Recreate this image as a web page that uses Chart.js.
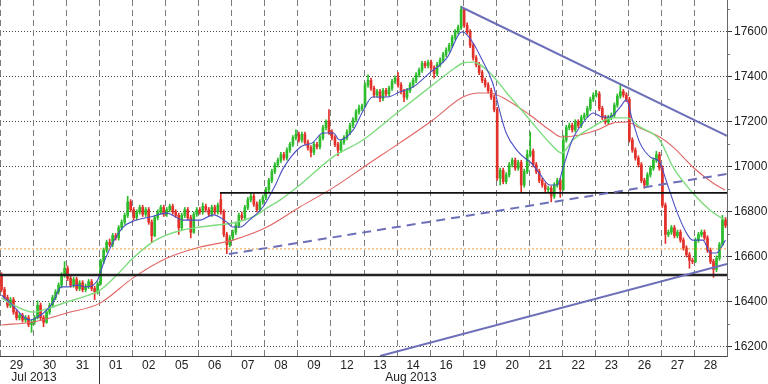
<!DOCTYPE html>
<html><head><meta charset="utf-8">
<script src="https://cdn.jsdelivr.net/npm/chart.js@4/dist/chart.umd.min.js"></script>
<style>html,body{margin:0;padding:0;background:#fff;}canvas{display:block;}</style>
</head><body>
<canvas id="c" width="768" height="384"></canvas>
<script>
// ---- data ----
const dayLabels = ['29','30','31','01','02','05','06','07','08','09','12','13','14','16','19','20','21','22','23','26','27','28'];
const monthLabels = ['Jul 2013','Aug 2013'];
const monthLabelPos = [10.8, 136.3];   // bar-index where month label sits
const monthSeparator = 32.5;           // between 31 Jul and 01 Aug
const barsPerDay = 11;
const yTicks = [16200,16400,16600,16800,17000,17200,17400,17600];
const yMinorTicks = [16300,16500,16700,16900,17100,17300,17500,17700];

const opens = [
16520,16455,16420,16385,16410,16355,16330,16340,16320,16330,16300,
16310,16330,16385,16330,16310,16355,16385,16420,16445,16475,16520,
16550,16505,16475,16500,16460,16485,16455,16470,16490,16460,16445,
16480,16580,16630,16665,16655,16695,16685,16730,16755,16785,16845,
16810,16775,16800,16820,16790,16810,16755,16695,16775,16800,16820,
16790,16810,16825,16800,16785,16730,16785,16810,16775,16710,16790,
16810,16800,16825,16810,16790,16820,16800,16855,16800,16700,16655,
16685,16710,16740,16785,16775,16820,16855,16870,16835,16810,16845,
16865,16900,16940,16980,17010,17030,17055,17040,17075,17100,17130,
17145,17120,17145,17110,17085,17065,17100,17090,17130,17175,17205,
17155,17130,17100,17075,17110,17130,17155,17185,17210,17245,17260,
17270,17365,17385,17350,17320,17335,17305,17340,17325,17350,17380,
17395,17365,17335,17310,17340,17365,17385,17410,17430,17460,17450,
17465,17440,17415,17455,17475,17500,17520,17540,17575,17600,17620,
17700,17630,17600,17540,17485,17455,17420,17385,17365,17340,17310,
17255,16950,16985,16935,16965,17010,17030,16995,17020,16920,16980,
17055,17070,17010,16980,16940,16920,16900,16905,16870,16920,16940,
16900,17120,17175,17185,17165,17200,17185,17220,17230,17260,17300,
17320,17325,17260,17220,17200,17220,17230,17275,17315,17335,17320,
17300,17120,17075,17040,17010,16940,16920,16965,16995,17030,17055,
16995,16830,16700,16710,16730,16695,16710,16675,16640,16610,16585,
16580,16675,16700,16710,16685,16630,16580,16545,16595,16655,16765];
const closes = [
16455,16420,16385,16410,16355,16330,16340,16320,16330,16300,16310,
16330,16385,16330,16310,16355,16385,16420,16445,16475,16520,16550,
16505,16475,16500,16460,16485,16455,16470,16490,16460,16445,16480,
16580,16630,16665,16655,16695,16685,16730,16755,16785,16845,16810,
16775,16800,16820,16790,16810,16755,16695,16775,16800,16820,16790,
16810,16825,16800,16785,16730,16785,16810,16775,16710,16790,16810,
16800,16825,16810,16790,16820,16800,16830,16800,16700,16655,16685,
16710,16740,16785,16775,16820,16855,16870,16835,16810,16845,16865,
16900,16940,16980,17010,17030,17055,17040,17075,17100,17130,17145,
17120,17145,17110,17085,17065,17100,17090,17130,17175,17200,17155,
17130,17100,17075,17110,17130,17155,17185,17210,17245,17260,17270,
17365,17385,17350,17320,17335,17305,17340,17325,17350,17380,17395,
17365,17335,17310,17340,17365,17385,17410,17430,17460,17450,17465,
17440,17415,17455,17475,17500,17520,17540,17575,17600,17620,17700,
17630,17600,17540,17485,17455,17420,17385,17365,17340,17310,17255,
16950,16985,16935,16965,17010,17030,16995,17020,16920,16980,17055,
17070,17010,16980,16940,16920,16900,16905,16870,16920,16940,16900,
17120,17175,17185,17165,17200,17185,17220,17230,17260,17300,17320,
17325,17260,17220,17200,17220,17230,17275,17315,17335,17320,17300,
17120,17075,17040,17010,16940,16920,16965,16995,17030,17055,16995,
16830,16700,16710,16730,16695,16710,16675,16640,16610,16585,16580,
16675,16700,16710,16685,16630,16580,16545,16595,16655,16765,16740];
const highs = [
16530,16465,16430,16420,16420,16365,16350,16350,16340,16340,16320,
16340,16405,16395,16340,16365,16395,16430,16455,16485,16530,16580,
16560,16515,16510,16510,16495,16495,16480,16500,16500,16470,16490,
16590,16640,16675,16680,16705,16705,16740,16765,16795,16870,16855,
16820,16810,16830,16830,16820,16820,16765,16785,16810,16830,16830,
16820,16835,16835,16810,16795,16795,16820,16820,16785,16800,16820,
16820,16840,16835,16820,16830,16830,16840,16885,16810,16710,16695,
16720,16750,16795,16800,16830,16865,16885,16880,16845,16855,16875,
16910,16950,16990,17020,17040,17065,17065,17085,17110,17140,17165,
17155,17155,17155,17120,17095,17110,17110,17140,17185,17210,17255,
17165,17140,17110,17120,17140,17165,17195,17220,17255,17275,17280,
17375,17410,17395,17360,17345,17345,17350,17350,17360,17390,17405,
17420,17375,17345,17350,17375,17395,17420,17440,17470,17470,17475,
17475,17450,17465,17485,17510,17530,17550,17585,17610,17630,17715,
17705,17640,17610,17550,17495,17465,17430,17395,17375,17350,17320,
17265,16995,16995,16975,17020,17040,17040,17030,17030,16990,17075,
17155,17080,17020,16990,16950,16930,16915,16915,16930,16950,16950,
17140,17185,17195,17195,17210,17210,17230,17240,17270,17310,17330,
17340,17335,17270,17230,17230,17240,17285,17325,17365,17345,17330,
17310,17130,17085,17050,17020,16950,16975,17005,17040,17070,17065,
17005,16840,16720,16740,16740,16720,16720,16685,16650,16620,16595,
16685,16710,16720,16720,16695,16640,16590,16605,16665,16785,16775];
const lows = [
16445,16410,16375,16375,16345,16320,16320,16310,16310,16290,16265,
16300,16325,16320,16290,16305,16345,16375,16410,16435,16465,16510,
16495,16465,16465,16450,16450,16445,16445,16460,16450,16410,16435,
16475,16570,16620,16645,16645,16675,16675,16720,16745,16775,16800,
16765,16765,16790,16780,16780,16745,16665,16690,16765,16790,16780,
16780,16800,16790,16775,16700,16720,16775,16765,16685,16705,16780,
16790,16790,16800,16780,16780,16790,16790,16790,16690,16615,16645,
16675,16700,16730,16765,16765,16810,16845,16825,16800,16800,16835,
16855,16890,16930,16970,17000,17020,17030,17030,17065,17090,17120,
17110,17110,17100,17075,17045,17055,17080,17080,17120,17165,17145,
17120,17090,17050,17065,17100,17120,17145,17175,17200,17235,17250,
17265,17355,17340,17310,17310,17290,17295,17315,17315,17340,17370,
17355,17325,17290,17300,17330,17355,17375,17400,17420,17440,17440,
17430,17395,17405,17445,17465,17490,17510,17530,17565,17590,17610,
17620,17590,17530,17475,17445,17410,17375,17355,17330,17300,17245,
16940,16920,16925,16925,16955,17000,16985,16985,16885,16910,16970,
17045,17000,16970,16930,16910,16890,16890,16845,16860,16910,16865,
16895,17110,17165,17155,17155,17175,17175,17210,17220,17250,17290,
17310,17250,17210,17190,17190,17210,17220,17265,17305,17310,17290,
17110,17065,17030,17000,16930,16905,16910,16955,16985,17020,16985,
16820,16660,16690,16700,16685,16685,16665,16630,16600,16550,16570,
16575,16665,16690,16675,16620,16570,16510,16535,16585,16650,16730];

// moving averages: [bar index, price]
const maFast = [[0,16431],[3,16395],[9.5,16320],[12,16333],[14,16351],[17,16395],[20,16467],[22,16467],[25,16475],[28.5,16467],[32,16498],[34,16573],[37,16662],[40.5,16733],[44,16760],[49.5,16778],[55,16795],[60.5,16764],[66,16764],[70.5,16787],[75,16755],[77,16733],[79.5,16733],[82.5,16764],[87,16822],[91.5,16929],[93.5,16987],[99.5,17089],[103.5,17107],[107,17151],[110.5,17151],[112.5,17120],[117,17164],[120.5,17253],[123.5,17311],[128.5,17311],[132.5,17333],[137,17355],[142.5,17418],[148.5,17489],[152.5,17595],[153.5,17600],[157,17551],[160,17475],[163.5,17373],[166,17240],[168,17151],[171.5,17075],[175,17031],[176,17022],[179,16973],[182.5,16920],[185,16920],[187,17000],[190,17120],[193.5,17195],[197,17240],[200,17222],[202.5,17222],[206,17267],[208,17298],[210,17209],[212.5,17107],[216,17044],[219,17022],[221.5,16929],[225,16795],[228,16707],[230,16675],[233.5,16675],[236,16618],[238,16618],[241,16675]];
const maMid = [[0,16418],[3.8,16387],[10.5,16355],[13.8,16364],[21.8,16400],[27.1,16422],[32.8,16453],[38.4,16520],[43.8,16595],[50.4,16667],[55.1,16698],[60.4,16720],[66.1,16733],[71.7,16742],[77,16751],[83.7,16778],[88.4,16818],[92.7,16853],[99.3,16920],[110.3,17044],[120.3,17120],[131.6,17240],[142.6,17355],[150.9,17440],[153.6,17462],[156.9,17466],[162.6,17418],[168.2,17329],[175.9,17209],[182.5,17107],[186.5,17062],[190.2,17120],[196.8,17178],[203.5,17218],[208.2,17218],[212.5,17178],[219.1,17120],[223.5,17000],[230.1,16884],[235.8,16809],[240.8,16764]];
const maSlow = [[0,16298],[10.5,16311],[21.8,16351],[32.8,16395],[43.8,16507],[55.1,16595],[66.1,16644],[77,16675],[88.4,16733],[99.3,16822],[110.3,16907],[121.6,17009],[132.6,17107],[143.6,17209],[153.6,17311],[159.2,17329],[162.6,17329],[168.2,17298],[175.9,17231],[182.5,17164],[186.5,17133],[192.5,17142],[198.2,17164],[203.5,17195],[208.2,17200],[212.5,17173],[219.1,17133],[223.5,17089],[230.1,17000],[236.8,16929],[240.8,16898]];

// drawn lines: [bar index, price]
const resistanceLine = [[153,17711],[241.5,17138]];
const supportLine = [[126,16160],[241.5,16569]];
const risingDashed = [[75.7,16613],[241.5,16969]];
const levelLow = [[-0.5,16520],[241.5,16520]];
const levelHigh = [[72.7,16885],[241.5,16885]];
const levelOrange = [[-0.5,16636],[241.5,16636]];

// ---- build ----
const nBars = closes.length;
const xMin = -0.5, xMax = nBars - 0.5;
const upC = '#2cbc2c', dnC = '#e2302a';
const candleColors = closes.map((c,i) => c >= opens[i] ? upC : dnC);
const bodies = closes.map((c,i) => ({x:i, y:[opens[i], c]}));
const wicks = closes.map((c,i) => ({x:i, y:[lows[i], highs[i]]}));
const pts = a => a.map(p => ({x:p[0], y:p[1]}));
const dayCenters = dayLabels.map((_,d) => d*barsPerDay + (barsPerDay-1)/2);
const dayBounds = [];
for (let d = 0; d <= dayLabels.length; d++) dayBounds.push(d*barsPerDay - 0.5);
const font = {family:'Liberation Sans, Arial, sans-serif', size:12};
const lineDs = (data, color, width, order, extra) => Object.assign({
  type:'line', data:pts(data), borderColor:color, borderWidth:width, pointRadius:0,
  fill:false, order:order, tension:0
}, extra||{});

// day separators, x-axis line, month separator and minor y ticks, placed with the chart's scales
const framePlugin = {
  id:'frame',
  beforeDatasetsDraw(chart){
    const s = chart.scales.x, ca = chart.chartArea, ctx = chart.ctx;
    ctx.save();
    ctx.strokeStyle = '#7c7c7c'; ctx.lineWidth = 1; ctx.setLineDash([6,4]);
    dayBounds.forEach(b => {
      const px = Math.round(s.getPixelForValue(b)) + 0.5;
      if (px > ca.right - 1) return;
      ctx.beginPath(); ctx.moveTo(px, ca.top); ctx.lineTo(px, ca.bottom); ctx.stroke();
    });
    ctx.restore();
  },
  afterDraw(chart){
    const s = chart.scales.x, y = chart.scales.y, ca = chart.chartArea, ctx = chart.ctx;
    ctx.save();
    ctx.strokeStyle = '#444'; ctx.lineWidth = 1;
    const by = Math.round(ca.bottom) + 0.5;
    ctx.beginPath(); ctx.moveTo(ca.left, by); ctx.lineTo(ca.right, by); ctx.stroke();
    const px = Math.round(s.getPixelForValue(monthSeparator)) + 0.5;
    ctx.strokeStyle = '#333';
    ctx.beginPath(); ctx.moveTo(px, ca.bottom); ctx.lineTo(px, chart.height); ctx.stroke();
    ctx.strokeStyle = '#777';
    yMinorTicks.forEach(v => {
      const py = Math.round(y.getPixelForValue(v)) + 0.5;
      if (py < ca.top || py > ca.bottom) return;
      ctx.beginPath(); ctx.moveTo(ca.right, py); ctx.lineTo(ca.right + 3, py); ctx.stroke();
    });
    ctx.restore();
  }
};

new Chart(document.getElementById('c'), {
  type:'bar',
  data:{datasets:[
    {type:'bar', data:wicks, backgroundColor:candleColors, barThickness:1, grouped:false, order:30, borderWidth:0},
    {type:'bar', data:bodies, backgroundColor:candleColors, barThickness:2, grouped:false, order:29, borderWidth:0},
    lineDs(maSlow, '#e06464', 1.1, 22, {tension:0.4, cubicInterpolationMode:'monotone'}),
    lineDs(maMid, '#7fdc7f', 1.4, 21, {tension:0.4, cubicInterpolationMode:'monotone'}),
    lineDs(maFast, '#4a4fc4', 1.1, 20, {tension:0.4, cubicInterpolationMode:'monotone'}),
    lineDs(levelOrange, '#f0a038', 1, 12, {borderDash:[2,2]}),
    lineDs(levelLow, '#222', 2.5, 11),
    lineDs(levelHigh, '#111', 1.6, 10),
    lineDs(risingDashed, '#6d70b8', 2, 9, {borderDash:[9,6]}),
    lineDs(resistanceLine, '#6d70b8', 2, 8),
    lineDs(supportLine, '#6d70b8', 2, 7)
  ]},
  options:{
    responsive:false, animation:false, devicePixelRatio:1,
    layout:{padding:0},
    plugins:{legend:{display:false}, tooltip:{enabled:false}},
    scales:{
      x:{type:'linear', position:'bottom', min:xMin, max:xMax, offset:false, weight:0,
        afterBuildTicks:s => { s.ticks = dayCenters.map(v => ({value:v})); },
        afterFit:s => { s.height = 14; s.paddingLeft = 0; s.paddingRight = 0; },
        ticks:{autoSkip:false, maxRotation:0, minRotation:0, padding:2, font:font, color:'#222',
          callback:(v,i) => dayLabels[i]},
        grid:{display:false, drawTicks:false},
        border:{display:false}
      },
      x2:{type:'linear', position:'bottom', min:xMin, max:xMax, offset:false, weight:1,
        afterBuildTicks:s => { s.ticks = monthLabelPos.map(v => ({value:v})); },
        afterFit:s => { s.height = 14; s.paddingLeft = 0; s.paddingRight = 0; },
        ticks:{autoSkip:false, maxRotation:0, minRotation:0, padding:0, font:font, color:'#222',
          callback:(v,i) => monthLabels[i]},
        grid:{display:false, drawTicks:false},
        border:{display:false}
      },
      y:{type:'linear', position:'right', min:16160, max:17742,
        afterBuildTicks:s => { s.ticks = yTicks.map(v => ({value:v})); },
        afterFit:s => { s.width = 41; s.paddingTop = 0; s.paddingBottom = 0; },
        ticks:{padding:2, font:font, color:'#222', callback:v => String(v)},
        grid:{color:'#444', lineWidth:1, drawTicks:true, tickLength:5, tickColor:'#333'},
        border:{display:true, color:'#666', width:1, dash:[1,2]}
      }
    }
  },
  plugins:[framePlugin]
});
</script>
</body></html>
